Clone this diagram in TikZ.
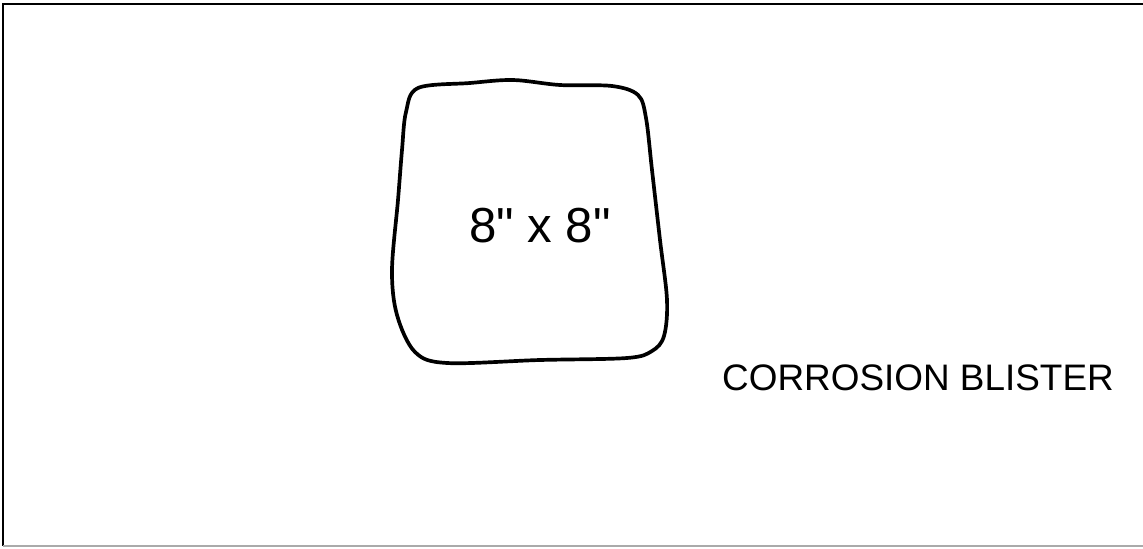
\documentclass[tikz,border=0pt]{standalone}
\usepackage{fontspec}
\setmainfont{Liberation Sans}
\usetikzlibrary{positioning}
\definecolor{framegray}{RGB}{170,170,170}
\tikzset{frame/.style={line width=1.5pt},framelow/.style={line width=1pt,draw=framegray},blob/.style={line width=2.1pt,line join=round},size/.style={font=\fontsize{28}{30}\selectfont,inner sep=0pt},note/.style={font=\fontsize{21}{24}\selectfont,inner sep=0pt}}

\begin{document}
\begin{tikzpicture}[x=0.02cm,y=-0.02cm]
\useasboundingbox (0,0) rectangle (1143,548);
\draw[frame] (1143,4)--(3,4)--(3,546);
\draw[framelow] (3,546)--(1143,546);
\draw[blob] plot[smooth cycle,tension=0.55] coordinates {(418,88) (470,83) (513,80) (560,85) (612,86) (638,95) (646,118) (652,170) (660,240) (667,300) (664,336) (652,351) (627,358) (540,360) (447,363) (415,352) (397,315) (392,270) (398,200) (402,150) (406,112)};
\node[size] (dims) at (540,226) {8\textquotedbl\ x 8\textquotedbl};
\node[note] (label) at (918,378) {CORROSION BLISTER};
\end{tikzpicture}
\end{document}
